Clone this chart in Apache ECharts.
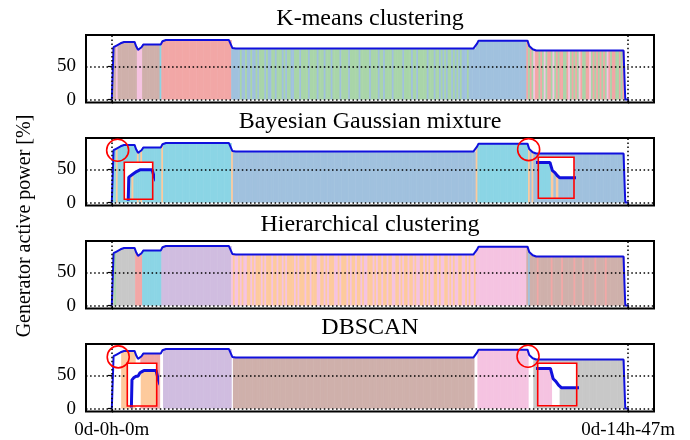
<!DOCTYPE html>
<html>
<head>
<meta charset="utf-8">
<script src="https://cdn.jsdelivr.net/npm/echarts@6/dist/echarts.min.js"></script>
<style>
  html, body { margin: 0; padding: 0; background: #fff; }
  #chart { width: 690px; height: 440px; }
</style>
</head>
<body>
<div id="chart"></div>
<script>
// Sampling period of the power log, in minutes
const STEP_MIN = 3;

// Generator active power [%], one value per sample
const power = [
  0, 79, 81, 82, 82, 85, 86, 87, 87, 87,
  87, 87, 87, 87, 80, 75, 75, 79, 83, 83,
  83, 83, 83, 83, 83, 83, 83, 83, 83, 88,
  90, 90, 90, 90, 90, 90, 90, 90, 90, 90,
  90, 90, 90, 90, 90, 90, 90, 90, 90, 90,
  90, 90, 90, 90, 90, 90, 90, 90, 90, 90,
  90, 90, 90, 90, 90, 90, 90, 90, 90, 78,
  77, 77, 77, 77, 77, 77, 77, 77, 77, 77,
  77, 77, 77, 77, 77, 77, 77, 77, 77, 77,
  77, 77, 77, 77, 77, 77, 77, 77, 77, 77,
  77, 77, 77, 77, 77, 77, 77, 77, 77, 77,
  77, 77, 77, 77, 77, 77, 77, 77, 77, 77,
  77, 77, 77, 77, 77, 77, 77, 77, 77, 77,
  77, 77, 77, 77, 77, 77, 77, 77, 77, 77,
  77, 77, 77, 77, 77, 77, 77, 77, 77, 77,
  77, 77, 77, 77, 77, 77, 77, 77, 77, 77,
  77, 77, 77, 77, 77, 77, 77, 77, 77, 77,
  77, 77, 77, 77, 77, 77, 77, 77, 77, 77,
  77, 77, 77, 77, 77, 77, 77, 77, 77, 77,
  77, 77, 77, 77, 77, 77, 77, 77, 77, 77,
  77, 77, 77, 77, 77, 77, 77, 77, 77, 84,
  89, 89, 89, 89, 89, 89, 89, 89, 89, 89,
  89, 89, 89, 89, 89, 89, 89, 89, 89, 89,
  89, 89, 89, 89, 89, 89, 89, 89, 89, 81,
  79, 76, 74, 74, 74, 74, 74, 74, 74, 74,
  74, 74, 74, 74, 74, 74, 74, 74, 74, 74,
  74, 74, 74, 74, 74, 74, 74, 74, 74, 74,
  74, 74, 74, 74, 74, 74, 74, 74, 74, 74,
  74, 74, 74, 74, 74, 74, 74, 74, 74, 74,
  74, 74, 74, 74, 0, 0, 0
];

// Cluster label of every sample, one letter per sample ('.' = unassigned)
const kmeansLabels = [
  '.nnknnnnnn', 'nnnnnkkknn', 'nnnnnnnncr', 'rrrrrrrrrr', 'rrrrrrrrrr',
  'rrrrrrrrrr', 'rrrrrrrrrb', 'bbbbgbbgbb', 'gbbgbgggbg', 'bbggbgggbg',
  'bggbbgggbg', 'gggbggggbg', 'ggbgggbggg', 'gbggggbggg', 'ggbgggggbg',
  'gggbggbggg', 'gbgggggbgg', 'ggbggbgggg', 'gbgggbggbg', 'bgbggbgbgb',
  'gbbbgbbbbb', 'bbbbbbbbbb', 'bbbbbbbbbb', 'bbbbbbbbrg', 'rgkrrgrgkg',
  'rrgkgrgrrg', 'grkgrgrgkr', 'ggrrkgrgrg', 'rgrgkrgrrg', 'grgr...'
].join('');

const bayesLabels = [
  '.ccocccccc', 'cccccococc', 'ccccccccco', 'cccccccccc', 'cccccccccc',
  'cccccccccc', 'ccccccccco', 'bbbbbbbbbb', 'bbbbbbbbbb', 'bbbbbbbbbb',
  'bbbbbbbbbb', 'bbbbbbbbbb', 'bbbbbbbbbb', 'bbbbbbbbbb', 'bbbbbbbbbb',
  'bbbbbbbbbb', 'bbbbbbbbbb', 'bbbbbbbbbb', 'bbbbbbbbbb', 'bbbbbbbbbb',
  'bbbbbbbbbo', 'cccccccccc', 'cccccccccc', 'ccccccccco', 'bobbbbbbbb',
  'bbbbbbbbbb', 'bbbbbbbbbb', 'bbbbbbbbbb', 'bbbbbbbbbb', 'bbbb...'
].join('');

const hierLabels = [
  '.ygyyyyyyy', 'yyyyrrrrcc', 'cccccccccp', 'pppppppppp', 'pppppppppp',
  'pppppppppp', 'pppppppppk', 'okkokokkoo', 'kokoookoko', 'ookookooko',
  'kooookokoo', 'okookoookk', 'ookokoookk', 'okoookokoo', 'kookokkooo',
  'kokookooko', 'okkookokoo', 'kookokkook', 'okokkookok', 'kookokokko',
  'okkokokkok', 'kkkkkkkkkk', 'kkkkkkkkkk', 'kkkkkkkknb', 'nnnnrnnnnn',
  'nnrnnnnnrn', 'nnnnnrnnnn', 'rnnnnnnrnn', 'nnnrnnnnnn', 'nnnn...'
].join('');

const dbscanLabels = [
  '......oooo', 'oooo...rrr', 'rrrrrrrr..', 'pppppppppp', 'pppppppppp',
  'pppppppppp', 'ppppppppp.', 'nnnnnnnnnn', 'nnnnnnnnnn', 'nnnnnnnnnn',
  'nnnnnnnnnn', 'nnnnnnnnnn', 'nnnnnnnnnn', 'nnnnnnnnnn', 'nnnnnnnnnn',
  'nnnnnnnnnn', 'nnnnnnnnnn', 'nnnnnnnnnn', 'nnnnnnnnnn', 'nnnnnnnnnn',
  'nnnnnnnn..', 'kkkkkkkkkk', 'kkkkkkkkkk', 'kkkkkkkkk.', '..yyyyyyyy',
  'yyyyyyyyyy', 'yyyyyyyyyy', 'yyyyyyyyyy', 'yyyyyyyyyy', 'yyyy...'
].join('');

const methodTitles = ['K-means clustering', 'Bayesian Gaussian mixture', 'Hierarchical clustering', 'DBSCAN'];
const methodLabels = [kmeansLabels, bayesLabels, hierLabels, dbscanLabels];

// Time axis ticks (minutes from start) and their labels
const timeTicks = [0, 887];
const timeTickLabels = ['0d-0h-0m', '0d-14h-47m'];
const powerTicks = [0, 50];
const yAxisTitle = 'Generator active power [%]';

// Highlighted transitions [minute, power] for the panels that carry zoom boxes
const highlightPoints = {
  1: [[10, 79], [716, 80]],
  3: [[11, 78], [715, 79]]
};

// ---------------------------------------------------------------- styling
const clusterColors = {
  b: '#a0c1de', g: '#a9d5a9', r: '#f2a7a6', k: '#f5c3e1', n: '#cfb0ab',
  c: '#8bd5e5', p: '#d0bde0', o: '#fdca9d', y: '#c8c8c8'
};
const codeList = Object.keys(clusterColors);
const LINE_COLOR = '#1010dd';
const SERIF = '"Liberation Serif", "DejaVu Serif", serif';
const PANEL = { left: 86, width: 568, top: 35, height: 67.5, gap: 103 };
const X_RANGE = [-44.35, 931.35];
const Y_RANGE = [-4.5, 97.5];
const SEAM_OVERLAP = 0.6; // px each stripe extends into its neighbour

// Zoomed boxes: panel, pixel box, and the time / power window they show
const insets = [
  { panel: 1, box: { left: 124.3, top: 162.3, width: 28.4, height: 37 }, t: [-4, 40], v: [55, 95] },
  { panel: 1, box: { left: 538.3, top: 157.3, width: 35.7, height: 41 }, t: [700, 743], v: [54, 94] },
  { panel: 3, box: { left: 127.3, top: 363.3, width: 29.4, height: 42.7 }, t: [-4, 40], v: [57, 93] },
  { panel: 3, box: { left: 537.7, top: 363.3, width: 39, height: 42.4 }, t: [700, 743], v: [60, 93] }
];

function stripeData(labels) {
  const out = [];
  for (let i = 0; i < power.length; i++) {
    const c = labels[i];
    if (c && c !== '.' && power[i] > 0) out.push([i * STEP_MIN, power[i], codeList.indexOf(c)]);
  }
  return out;
}
const lineData = power.map((v, i) => [i * STEP_MIN, v]);

function renderStripe(params, api) {
  const t = api.value(0), v = api.value(1), ci = api.value(2);
  const a = api.coord([t - STEP_MIN / 2, 0]);
  const b = api.coord([t + STEP_MIN / 2, v]);
  const cs = params.coordSys;
  const shape = echarts.graphic.clipRectByRect(
    { x: a[0] - SEAM_OVERLAP / 2, y: b[1], width: b[0] - a[0] + SEAM_OVERLAP, height: a[1] - b[1] },
    { x: cs.x, y: cs.y, width: cs.width, height: cs.height }
  );
  if (!shape) return null;
  return { type: 'rect', shape: shape, style: { fill: clusterColors[codeList[ci]] } };
}

function renderFrame(params) {
  const cs = params.coordSys;
  return {
    type: 'rect',
    shape: { x: cs.x, y: cs.y, width: cs.width, height: cs.height },
    style: { fill: 'none', stroke: '#ff0000', lineWidth: 1.6 }
  };
}

const grids = [], xAxes = [], yAxes = [], series = [];
const dotted = { color: '#000', type: [1.5, 2.6], width: 1.5 };

methodTitles.forEach((title, p) => {
  grids.push({
    left: PANEL.left, width: PANEL.width, top: PANEL.top + PANEL.gap * p, height: PANEL.height,
    show: true, backgroundColor: '#fff', borderColor: '#000', borderWidth: 2
  });
  xAxes.push({
    gridIndex: p, type: 'value', min: X_RANGE[0], max: X_RANGE[1],
    axisLine: { show: false }, splitLine: { show: false },
    axisTick: { show: true, customValues: timeTicks, length: 4, lineStyle: { color: '#000', width: 1.2 } },
    axisLabel: {
      show: p === methodTitles.length - 1, customValues: timeTicks,
      formatter: (v) => timeTickLabels[timeTicks.indexOf(v)],
      fontFamily: SERIF, fontSize: 19, color: '#000', margin: 9
    }
  });
  yAxes.push({
    gridIndex: p, type: 'value', min: Y_RANGE[0], max: Y_RANGE[1],
    axisLine: { show: false }, splitLine: { show: false },
    axisTick: { show: true, customValues: powerTicks, length: 4, lineStyle: { color: '#000', width: 1.2 } },
    axisLabel: { customValues: powerTicks, fontFamily: SERIF, fontSize: 19, color: '#000', margin: 10 }
  });
  series.push({
    type: 'custom', xAxisIndex: p, yAxisIndex: p, z: 2, silent: true,
    renderItem: renderStripe, data: stripeData(methodLabels[p])
  });
  const lineSeries = {
    type: 'line', xAxisIndex: p, yAxisIndex: p, z: 3, silent: true,
    data: lineData, showSymbol: false, symbol: 'none',
    lineStyle: { color: LINE_COLOR, width: 2 },
    markLine: {
      silent: true, symbol: ['none', 'none'], label: { show: false },
      lineStyle: dotted,
      data: powerTicks.map(v => ({ yAxis: v })).concat(timeTicks.map(v => ({ xAxis: v })))
    }
  };
  if (highlightPoints[p]) {
    lineSeries.markPoint = {
      silent: true, symbol: 'circle', symbolSize: 22, label: { show: false },
      itemStyle: { color: 'rgba(0,0,0,0)', borderColor: '#ff0000', borderWidth: 1.6 },
      data: highlightPoints[p].map(c => ({ coord: c }))
    };
  }
  series.push(lineSeries);
});

insets.forEach((ins) => {
  const gi = grids.length;
  grids.push(Object.assign({ show: true, backgroundColor: '#fff', borderWidth: 0, z: 10 }, ins.box));
  xAxes.push({ gridIndex: gi, type: 'value', min: ins.t[0], max: ins.t[1], show: false });
  yAxes.push({ gridIndex: gi, type: 'value', min: ins.v[0], max: ins.v[1], show: false });
  series.push({
    type: 'custom', xAxisIndex: gi, yAxisIndex: gi, z: 11, silent: true,
    renderItem: renderStripe, data: stripeData(methodLabels[ins.panel])
  });
  series.push({
    type: 'line', xAxisIndex: gi, yAxisIndex: gi, z: 12, silent: true,
    data: lineData, showSymbol: false, symbol: 'none',
    lineStyle: { color: LINE_COLOR, width: 3 }
  });
  series.push({
    type: 'custom', xAxisIndex: gi, yAxisIndex: gi, z: 13, silent: true,
    renderItem: renderFrame, data: [[ins.t[0], ins.v[0]]]
  });
});

const graphic = methodTitles.map((t, p) => ({
  type: 'text', x: 370, y: 19 + PANEL.gap * p, silent: true,
  style: { text: t, font: '24px ' + SERIF, fill: '#000', textAlign: 'center', textVerticalAlign: 'middle' }
}));
graphic.push({
  type: 'text', x: 25, y: 226, rotation: Math.PI / 2, silent: true,
  style: { text: yAxisTitle, font: '20px ' + SERIF, fill: '#000', textAlign: 'center', textVerticalAlign: 'middle' }
});

const chart = echarts.init(document.getElementById('chart'));
chart.setOption({
  animation: false,
  backgroundColor: '#fff',
  grid: grids, xAxis: xAxes, yAxis: yAxes, series: series, graphic: graphic
});
</script>
</body>
</html>
